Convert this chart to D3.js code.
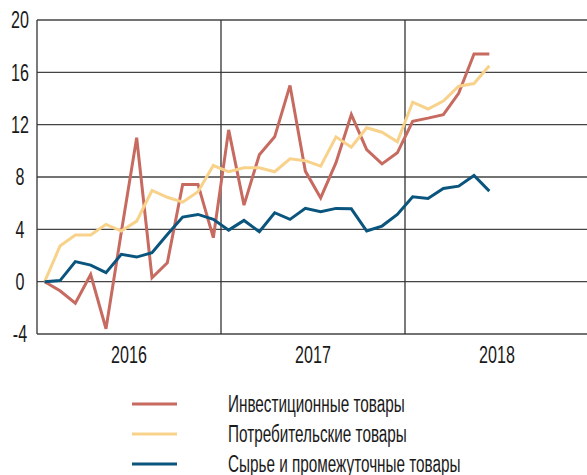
<!DOCTYPE html>
<meta charset="utf-8">
<style>
body { margin: 0; background: #fff; }
#chart text {
  font-family: "Liberation Sans", Arial, sans-serif;
  font-size: 23px;
  fill: #1a1a1a;
}
</style>
<svg id="chart"></svg>
<script src="https://d3js.org/d3.v7.min.js"></script>
<script>

// месяцы: янв 2016 - июн 2018
var years = ["2016", "2017", "2018"];
var yTicks = [-4, 0, 4, 8, 12, 16, 20];

var invest = [0, -0.7, -1.65, 0.55, -3.6, 3.8, 11.0, 0.3, 1.45, 7.43, 7.43, 3.36,
  11.6, 5.85, 9.7, 11.07, 15.0, 8.45, 6.4, 9.1, 12.77, 10.1, 9.0, 9.85,
  12.26, 12.5, 12.77, 14.4, 17.4, 17.4];
var consumer = [0, 2.72, 3.56, 3.56, 4.38, 3.87, 4.63, 6.97, 6.45, 6.08, 6.87, 8.88,
  8.4, 8.7, 8.7, 8.4, 9.39, 9.25, 8.83, 11.07, 10.28, 11.76, 11.42, 10.69,
  13.72, 13.2, 13.8, 14.94, 15.14, 16.5];
var materials = [0, 0.08, 1.53, 1.27, 0.69, 2.09, 1.88, 2.21, 3.61, 4.94, 5.14, 4.76,
  3.94, 4.68, 3.82, 5.27, 4.76, 5.6, 5.34, 5.6, 5.57, 3.87, 4.25, 5.14,
  6.49, 6.36, 7.12, 7.3, 8.12, 6.92];

var seriesNames = ["Инвестиционные товары", "Потребительские товары", "Сырье и промежуточные товары"];
var colors = ["#c76a60", "#f8d28a", "#0a557d"];
var series = [invest, consumer, materials];

var width = 587,
    height = 475;

var x0 = 37, x1 = 589, yTop = 20, yBottom = 334;
var squeeze = 0.7; // узкий шрифт

var svg = d3.select("#chart")
    .attr("width", width)
    .attr("height", height);

var x = d3.scaleLinear()
    .domain([-0.5, 35.5])
    .range([x0, x1]);

var y = d3.scaleLinear()
    .domain([-4, 20])
    .range([yBottom, yTop]);

// горизонтальная сетка
svg.selectAll("line.h")
    .data(yTicks)
  .enter().append("line")
    .attr("x1", x0)
    .attr("x2", x1)
    .attr("y1", function(d) { return y(d); })
    .attr("y2", function(d) { return y(d); })
    .attr("stroke", "#444")
    .attr("stroke-width", 1.3);

// границы годов
svg.selectAll("line.v")
    .data([0, 1, 2])
  .enter().append("line")
    .attr("x1", function(d) { return x(d * 12 - 0.5); })
    .attr("x2", function(d) { return x(d * 12 - 0.5); })
    .attr("y1", yTop)
    .attr("y2", yBottom)
    .attr("stroke", "#333")
    .attr("stroke-width", 1.3);

svg.selectAll("text.ytick")
    .data(yTicks)
  .enter().append("text")
    .attr("transform", function(d) { return "translate(20," + y(d) + ") scale(" + squeeze + ",1)"; })
    .attr("dy", ".36em")
    .attr("text-anchor", "middle")
    .text(function(d) { return d; });

svg.selectAll("text.year")
    .data(years)
  .enter().append("text")
    .attr("transform", function(d, i) { return "translate(" + x(i * 12 + 5.5) + ",355) scale(" + squeeze + ",1)"; })
    .attr("dy", ".36em")
    .attr("text-anchor", "middle")
    .text(function(d) { return d; });

var line = d3.line()
    .x(function(d, i) { return x(i); })
    .y(function(d) { return y(d); });

svg.selectAll("path.s")
    .data(series)
  .enter().append("path")
    .attr("d", line)
    .attr("fill", "none")
    .attr("stroke", function(d, i) { return colors[i]; })
    .attr("stroke-width", 3)
    .attr("stroke-linejoin", "miter");

// легенда
var leg = svg.selectAll("g.leg")
    .data(seriesNames)
  .enter().append("g")
    .attr("transform", function(d, i) { return "translate(0," + (404 + i * 30) + ")"; });

leg.append("line")
    .attr("x1", 132)
    .attr("x2", 177)
    .attr("stroke", function(d, i) { return colors[i]; })
    .attr("stroke-width", 3);

leg.append("text")
    .attr("transform", "translate(228,0) scale(0.665,1)")
    .attr("dy", ".36em")
    .text(function(d) { return d; });

</script>
